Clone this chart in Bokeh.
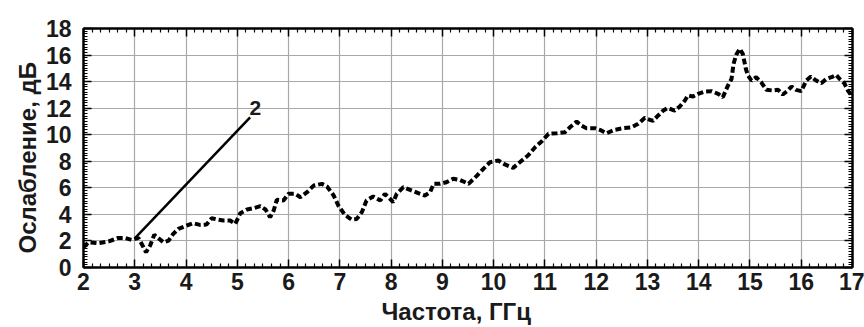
import numpy as np
from bokeh.plotting import figure
from bokeh.models import Range1d, LinearAxis, FixedTicker, CustomJSTickFormatter, ColumnDataSource, Title
from bokeh.core.properties import value
from bokeh.embed import file_html
from bokeh.resources import INLINE

# ---- data ----
freq = [2.0, 2.1, 2.29, 2.49, 2.68, 2.81, 2.94, 3.07, 3.17, 3.22, 3.30, 3.38, 3.46, 3.56, 3.66,
        3.75, 3.85, 3.98, 4.14, 4.27, 4.40, 4.50, 4.60, 4.73, 4.86, 4.96, 5.06, 5.19, 5.32, 5.45,
        5.55, 5.64, 5.71, 5.77, 5.90, 6.00, 6.13, 6.23, 6.36, 6.49, 6.65, 6.75, 6.88, 6.97, 7.10,
        7.23, 7.33, 7.43, 7.52, 7.65, 7.79, 7.88, 7.98, 8.04, 8.11, 8.24, 8.37, 8.53, 8.66, 8.76,
        8.83, 8.95, 9.08, 9.21, 9.34, 9.51, 9.67, 9.80, 9.93, 10.09, 10.22, 10.38, 10.51, 10.67,
        10.81, 10.94, 11.07, 11.23, 11.39, 11.49, 11.62, 11.71, 11.81, 11.97, 12.10, 12.20, 12.36,
        12.53, 12.69, 12.82, 12.95, 13.05, 13.11, 13.21, 13.31, 13.40, 13.53, 13.63, 13.73, 13.79,
        13.89, 13.99, 14.12, 14.25, 14.38, 14.47, 14.57, 14.64, 14.68, 14.73, 14.80, 14.86, 14.92,
        14.96, 15.03, 15.12, 15.22, 15.32, 15.45, 15.55, 15.64, 15.74, 15.81, 15.90, 16.00, 16.10,
        16.19, 16.29, 16.39, 16.49, 16.59, 16.68, 16.75, 16.84, 16.91, 16.98]
atten1 = [1.53, 1.9, 1.83, 1.96, 2.23, 2.23, 2.08, 2.23, 1.53, 1.15, 1.66, 2.46, 2.21, 1.9, 2.03,
          2.53, 2.91, 3.11, 3.34, 3.21, 3.24, 3.71, 3.62, 3.54, 3.54, 3.29, 4.09, 4.37, 4.47, 4.62,
          4.37, 3.79, 4.29, 5.1, 5.05, 5.55, 5.55, 5.29, 5.67, 6.17, 6.30, 6.1, 5.42, 4.67, 3.95,
          3.61, 3.66, 4.17, 5.05, 5.35, 5.05, 5.55, 5.17, 4.92, 5.55, 6.05, 5.85, 5.6, 5.42, 5.67,
          6.30, 6.30, 6.42, 6.68, 6.6, 6.30, 6.9, 7.43, 7.93, 8.06, 7.76, 7.5, 7.93, 8.43,
          9.06, 9.51, 10.07, 10.11, 10.19, 10.56, 10.99, 10.69, 10.49, 10.49, 10.32, 10.11, 10.37,
          10.49, 10.56, 10.82, 11.27, 11.12, 11.05, 11.45, 11.82, 12.02, 11.82, 12.12, 12.58, 12.95,
          12.88, 13.08, 13.25, 13.28, 13.08, 12.82, 13.7, 14.2, 15.34, 16.0, 16.47, 16.09, 14.96,
          14.46, 14.08, 14.33, 13.95, 13.38, 13.33, 13.38, 13.03, 13.33, 13.63, 13.38, 13.28, 14.08,
          14.38, 14.08, 13.88, 14.2, 14.33, 14.51, 14.2, 13.88, 13.33, 12.95]
line2_freq = [3.0, 5.25]
line2_atten = [2.2, 11.3]
label2_freq = [5.35]
label2_atten = [12.0]
label2_text = ["2"]
x_ticks = list(range(2, 18))
y_ticks = list(range(0, 19, 2))
x_title = "Частота, ГГц"
y_title = "Ослабление, дБ"

FONT = "Liberation Sans"

x_minor = [t + k / 6 for t in x_ticks[:-1] for k in range(1, 6)]
y_minor = [round(v, 2) for v in np.arange(0, 18.001, 0.2)]

p = figure(width=864, height=327, output_backend="svg", toolbar_location=None,
           x_range=Range1d(2, 17), y_range=Range1d(0, 18),
           min_border_left=83, min_border_right=12, min_border_top=28, min_border_bottom=60)
p.background_fill_color = "white"
p.border_fill_color = "white"
p.outline_line_color = "black"
p.outline_line_width = 2

xt = FixedTicker(ticks=x_ticks, minor_ticks=x_minor)
yt = FixedTicker(ticks=y_ticks, minor_ticks=y_minor)

def style_axis(ax, ticker, show_labels):
    ax.ticker = ticker
    ax.axis_line_color = "black"
    ax.axis_line_width = 2
    ax.major_tick_in = 8
    ax.major_tick_out = 0
    ax.minor_tick_in = 4
    ax.minor_tick_out = 0
    ax.major_tick_line_color = "black"
    ax.major_tick_line_width = 1.5
    ax.minor_tick_line_color = "black"
    ax.minor_tick_line_width = 1.2
    if show_labels:
        ax.major_label_text_font = FONT
        ax.major_label_text_font_style = "bold"
        ax.major_label_text_font_size = "23px"
        ax.major_label_text_color = "#1a1a1a"
    else:
        ax.formatter = CustomJSTickFormatter(code="return ''")

style_axis(p.xaxis[0], xt, True)
style_axis(p.yaxis[0], yt, True)
p.xaxis[0].major_label_standoff = 5
p.yaxis[0].major_label_standoff = 12

top = LinearAxis()
right = LinearAxis()
style_axis(top, xt, False)
style_axis(right, yt, False)
p.add_layout(top, "above")
p.add_layout(right, "right")

p.xgrid.ticker = xt
p.ygrid.ticker = yt
for g in (p.xgrid[0], p.ygrid[0]):
    g.grid_line_color = "#a8a8a8"
    g.grid_line_width = 1.2

src1 = ColumnDataSource(dict(x=freq, y=atten1))
p.line("x", "y", source=src1, line_color="black", line_width=4, line_dash="6 3")

src2 = ColumnDataSource(dict(x=line2_freq, y=line2_atten))
p.line("x", "y", source=src2, line_color="black", line_width=2.5)

src3 = ColumnDataSource(dict(x=label2_freq, y=label2_atten, t=label2_text))
p.text("x", "y", text="t", source=src3, text_font=value(FONT), text_font_style="bold",
       text_font_size="21px", text_align="center", text_baseline="middle", text_color="#1a1a1a")

ytitle = Title(text=y_title, align="left", offset=14, standoff=4,
               text_font=FONT, text_font_style="bold", text_font_size="24px",
               text_color="#1a1a1a")
p.add_layout(ytitle, "left")

xtitle = Title(text=x_title, align="left", offset=298, standoff=6,
               text_font=FONT, text_font_style="bold", text_font_size="24px",
               text_color="#1a1a1a")
p.add_layout(xtitle, "below")

open("out.html", "w").write(file_html(p, INLINE))
